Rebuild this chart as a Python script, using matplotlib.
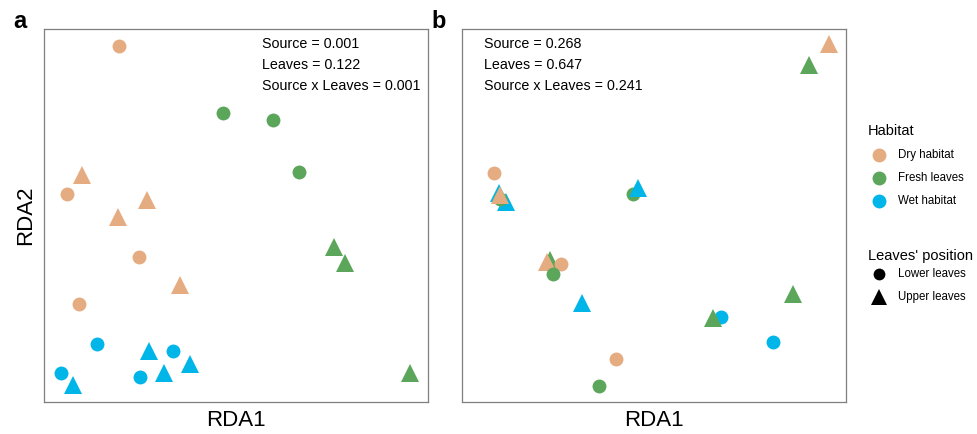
import matplotlib
matplotlib.use("Agg")
from matplotlib import pyplot as plt
from matplotlib.lines import Line2D

plt.rcParams['font.family'] = ['Liberation Sans', 'DejaVu Sans']

colors = {"Dry habitat": "#E6AC81", "Fresh leaves": "#5BA65B", "Wet habitat": "#00B5E8"}
shapes = {"Lower leaves": "o", "Upper leaves": "^"}

# panel a scores (rows in drawing order)
a_habitat = ["Dry habitat"] * 8 + ["Fresh leaves"] * 6 + ["Wet habitat"] * 8
a_leaves = (["Lower leaves"] * 4 + ["Upper leaves"] * 4
            + ["Lower leaves"] * 3 + ["Upper leaves"] * 3
            + ["Lower leaves"] * 4 + ["Upper leaves"] * 4)
a_rda1 = [19.5, 6.0, 24.7, 9.1, 9.9, 26.8, 19.3, 35.4,
          46.6, 59.6, 66.4, 75.5, 78.4, 95.3,
          13.8, 4.4, 33.6, 25.0, 7.6, 27.3, 31.3, 38.0]
a_rda2 = [95.4, 55.8, 38.9, 26.3, 60.9, 54.2, 49.6, 31.4,
          77.5, 75.6, 61.7, 41.6, 37.3, 7.8,
          15.5, 7.8, 13.7, 6.7, 4.6, 13.7, 7.8, 10.2]
a_stats = "Source = 0.001\nLeaves = 0.122\nSource x Leaves = 0.001"

# panel b scores (rows in drawing order)
b_habitat = ["Wet habitat", "Wet habitat", "Wet habitat", "Wet habitat",
             "Fresh leaves", "Fresh leaves", "Wet habitat", "Wet habitat",
             "Fresh leaves", "Dry habitat", "Dry habitat", "Fresh leaves",
             "Fresh leaves", "Fresh leaves", "Fresh leaves", "Fresh leaves",
             "Dry habitat", "Dry habitat", "Dry habitat", "Dry habitat"]
b_leaves = ["Upper leaves", "Upper leaves", "Lower leaves", "Lower leaves",
            "Lower leaves", "Lower leaves", "Upper leaves", "Upper leaves",
            "Upper leaves", "Upper leaves", "Lower leaves", "Lower leaves",
            "Lower leaves", "Upper leaves", "Upper leaves", "Upper leaves",
            "Upper leaves", "Upper leaves", "Lower leaves", "Lower leaves"]
b_rda1 = [9.6, 11.5, 67.4, 81.0, 9.9, 44.5, 45.8, 31.3, 22.9, 22.1,
          25.8, 23.7, 35.7, 65.4, 86.2, 90.4, 9.9, 95.6, 8.3, 40.1]
b_rda2 = [56.0, 53.6, 22.8, 16.1, 54.4, 55.8, 57.4, 26.5, 38.1, 37.5,
          37.0, 34.3, 4.3, 22.5, 29.0, 90.3, 55.5, 96.0, 61.4, 11.5]
b_stats = "Source = 0.268\nLeaves = 0.647\nSource x Leaves = 0.241"

W, H = 977, 434
fig = plt.figure(figsize=(W / 100, H / 100), dpi=100)


def panel(left_px, hab, lev, xs, ys, stats, text_px, label, ylabel):
    ax = fig.add_axes([left_px / W, 32 / H, 384 / W, 373 / H])
    for h, l, x, y in zip(hab, lev, xs, ys):
        ms = 10 if shapes[l] == "o" else 12.5
        ax.plot(x, y, marker=shapes[l], color=colors[h], ms=ms, mew=0, ls="none")
    ax.set_xlim(0, 100)
    ax.set_ylim(0, 100)
    ax.set_xticks([])
    ax.set_yticks([])
    for s in ax.spines.values():
        s.set_color("#7f7f7f")
        s.set_linewidth(0.9)
    ax.set_xlabel("RDA1", fontsize=16, labelpad=6)
    if ylabel:
        ax.set_ylabel("RDA2", fontsize=16, labelpad=6)
    # line centres at 44, 65, 86 px
    for i, line in enumerate(stats.split("\n")):
        fig.text(text_px / W, 1 - (44 + 21 * i) / H, line, fontsize=10.3,
                 va="center", ha="left")
    fig.text((left_px - 31) / W, 1 - 28 / H, label, fontsize=17, fontweight="bold")
    return ax


panel(44, a_habitat, a_leaves, a_rda1, a_rda2, a_stats, 262, "a", True)
panel(462, b_habitat, b_leaves, b_rda1, b_rda2, b_stats, 484, "b", False)

# legends
fig.text(868 / W, 1 - 131 / H, "Habitat", fontsize=10.5, va="center")
for i, name in enumerate(colors):
    y = 1 - (155 + 23 * i) / H
    fig.add_artist(Line2D([879 / W], [y], marker="o", color=colors[name], ms=10,
                          mew=0, transform=fig.transFigure))
    fig.text(898 / W, y, name, fontsize=8.3, va="center")

fig.text(868 / W, 1 - 256 / H, "Leaves' position", fontsize=10.5, va="center")
for i, name in enumerate(shapes):
    y = 1 - (274 + 23 * i) / H
    fig.add_artist(Line2D([879 / W], [y], marker=shapes[name], color="black",
                          ms=8.5 if shapes[name] == "o" else 11, mew=0,
                          transform=fig.transFigure))
    fig.text(898 / W, y, name, fontsize=8.3, va="center")

fig.savefig("out.png", dpi=100)
